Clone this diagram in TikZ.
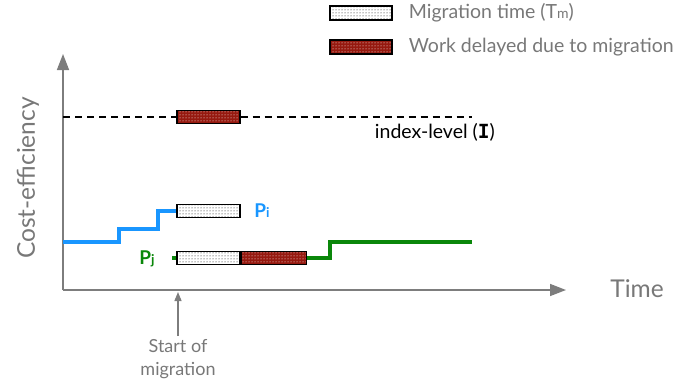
\documentclass[tikz,border=0pt]{standalone}
\usepackage{fontspec}
\setmainfont{Lato}
\newfontfamily\idxfont{DejaVu Sans Mono}
\usetikzlibrary{arrows.meta,patterns,positioning}
\definecolor{axisgray}{RGB}{125,125,125}
\definecolor{txtgray}{RGB}{120,120,120}
\definecolor{pblue}{RGB}{25,150,255}
\definecolor{pgreen}{RGB}{10,135,10}
\definecolor{delayred}{RGB}{150,25,15}
\tikzset{
    axis/.style = {draw=axisgray, line width=1.6pt, -{Triangle[length=16pt,width=12pt]}},
    axislabel/.style = {text=txtgray, font=\fontsize{24.5}{28}\selectfont},
    migbox/.style = {draw, line width=1.3pt, minimum width=63pt, minimum height=13pt,
        inner sep=0pt, preaction={fill=white}, pattern=dots},
    delaybox/.style = {migbox, preaction={fill=delayred}, pattern color=white},
    legtext/.style = {text=txtgray, font=\fontsize{19.5}{22}\selectfont, inner sep=0pt},
    pline/.style = {line width=3.5pt},
    plabel/.style = {font=\fontsize{19}{20}\selectfont\bfseries},
    note/.style = {text=txtgray, font=\fontsize{18}{23}\selectfont, align=center}
}
\begin{document}
\begin{tikzpicture}[x=1pt,y=-1pt]
    \useasboundingbox (0,0) rectangle (678,388);
    % legend
    \node [migbox, minimum width=62pt, minimum height=14pt] (legmig) at (361,13) {};
    \node [legtext, right=16pt of legmig] (legmigtxt) {Migration time (T{\fontsize{14}{16}\selectfont m})};
    \node [delaybox, minimum width=62pt, minimum height=14pt] (legdelay) at (361,47) {};
    \node [legtext, right=16pt of legdelay] (legdelaytxt) {Work delayed due to migration};
    % axes
    \coordinate (origin) at (63,290);
    \coordinate (ytip) at (63,54);
    \coordinate (xtip) at (566,290);
    \draw [axis] (origin) -- (ytip);
    \draw [axis] (origin) -- (xtip);
    \node [axislabel, rotate=90] (ylabel) at (28,178) {Cost-efficiency};
    \node [axislabel] (xlabel) at (637,289) {Time};
    % index level
    \coordinate (idxstart) at (63,117);
    \coordinate (idxend) at (472,117);
    \node [delaybox] (idxdelay) at (208.5,117) {};
    \draw [line width=1.3pt, dash pattern=on 7pt off 5pt] (idxstart) -- (idxdelay.west);
    \draw [line width=1.3pt, dash pattern=on 7pt off 5pt] (idxdelay.east) -- (idxend);
    \node [font=\fontsize{19.5}{22}\selectfont, inner sep=2pt, below left=4pt and -25pt of idxend] (idxlabel) {index-level ({\idxfont\bfseries I})};
    % P_i
    \node [migbox] (pimig) at (208.5,211) {};
    \node [plabel, text=pblue] (pilabel) at (262,211) {P{\fontsize{13.5}{14}\selectfont i}};
    \draw [pline, pblue] (63,242) -- (119,242) -- (119,229) -- (158,229) -- (158,211) -- (pimig.west);
    % P_j
    \node [migbox] (pjmig) at (208.5,258) {};
    \node [delaybox, minimum width=65pt, right=0pt of pjmig] (pjdelay) {};
    \node [plabel, text=pgreen] (pjlabel) at (147,259) {P{\fontsize{13.5}{14}\selectfont j}};
    \coordinate (pjstart) at (172,258);
    \draw [pline, pgreen] (pjstart) -- (pjmig.west);
    \draw [pline, pgreen] (pjdelay.east) -- (330,258) -- (330,242) -- (472,242);
    % start of migration
    \coordinate (migtip) at (178,292);
    \node [note, anchor=north] (startnote) at (178,336) {Start of\\migration};
    \draw [axisgray, line width=1.4pt, -{Triangle[length=9pt,width=7pt]}] (startnote.north) -- (migtip);
\end{tikzpicture}
\end{document}
